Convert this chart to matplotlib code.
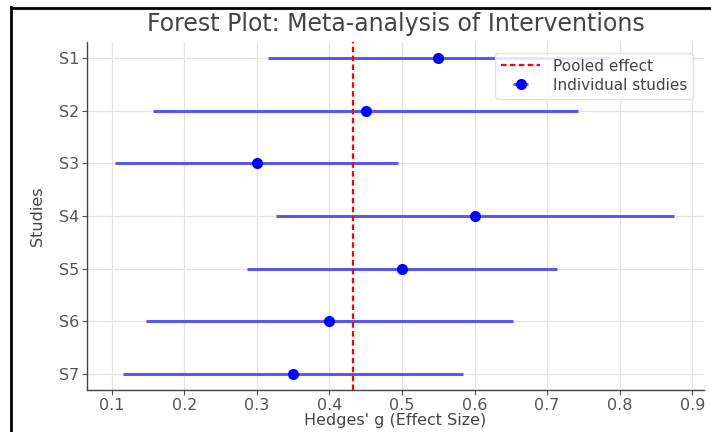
import numpy as np
import matplotlib
matplotlib.use("Agg")
import matplotlib.pyplot as plt
from matplotlib.lines import Line2D

# data
studies = ["S1", "S2", "S3", "S4", "S5", "S6", "S7"]
effect = [0.55, 0.45, 0.30, 0.60, 0.50, 0.40, 0.35]
ci_low = [0.315, 0.157, 0.105, 0.327, 0.286, 0.147, 0.116]
ci_high = [0.785, 0.743, 0.495, 0.875, 0.714, 0.653, 0.584]
pooled = 0.433
xticks = [0.1, 0.2, 0.3, 0.4, 0.5, 0.6, 0.7, 0.8, 0.9]

effect = np.array(effect)
err = np.array([effect - np.array(ci_low), np.array(ci_high) - effect])
y = np.arange(len(studies))

fig = plt.figure(figsize=(7.11, 4.32), dpi=100)
ax = fig.add_axes([0.1224, 0.0972, 0.8676, 0.8056])

ax.grid(True, color="#e3e3e3", linewidth=0.9, zorder=0)
ax.set_axisbelow(True)

ax.errorbar(effect, y, xerr=err, fmt="o", color="blue", ecolor=(0.15, 0.15, 0.95, 0.75),
            elinewidth=2.2, markersize=7, label="Individual studies", zorder=3)
ax.axvline(pooled, color="red", linestyle="--", dashes=(2.5, 1.5), linewidth=1.6,
           label="Pooled effect", zorder=4)

ax.set_xlim(0.066, 0.916)
ax.set_ylim(len(studies) - 0.7, -0.3)
ax.set_xticks(xticks)
ax.set_xticklabels(["%.1f" % t for t in xticks])
ax.set_yticks(y)
ax.set_yticklabels(studies)
ax.tick_params(labelsize=11.5, colors="#555555", length=3.5, width=0.8, pad=2)

for s in ["top", "right"]:
    ax.spines[s].set_visible(False)
for s in ["left", "bottom"]:
    ax.spines[s].set_color("#444444")
    ax.spines[s].set_linewidth(1.0)

ax.set_title("Forest Plot: Meta-analysis of Interventions", fontsize=17, color="#444444", pad=8)
ax.set_xlabel("Hedges' g (Effect Size)", fontsize=11.5, color="#444444", labelpad=0)
ax.set_ylabel("Studies", fontsize=11.5, color="#444444", labelpad=10)

ax.legend(loc="upper right", fontsize=11, framealpha=0.85, edgecolor="#dddddd",
          labelcolor="#444444", borderaxespad=0.7, labelspacing=0.25, handlelength=2.6)

# black frame left / top of the screenshot
fig.add_artist(Line2D([11 / 711, 11 / 711], [0, 1 - 7 / 432], color="black", linewidth=2))
fig.add_artist(Line2D([11 / 711, 1], [1 - 8 / 432, 1 - 8 / 432], color="black", linewidth=2))

fig.savefig("out.png", dpi=100)
